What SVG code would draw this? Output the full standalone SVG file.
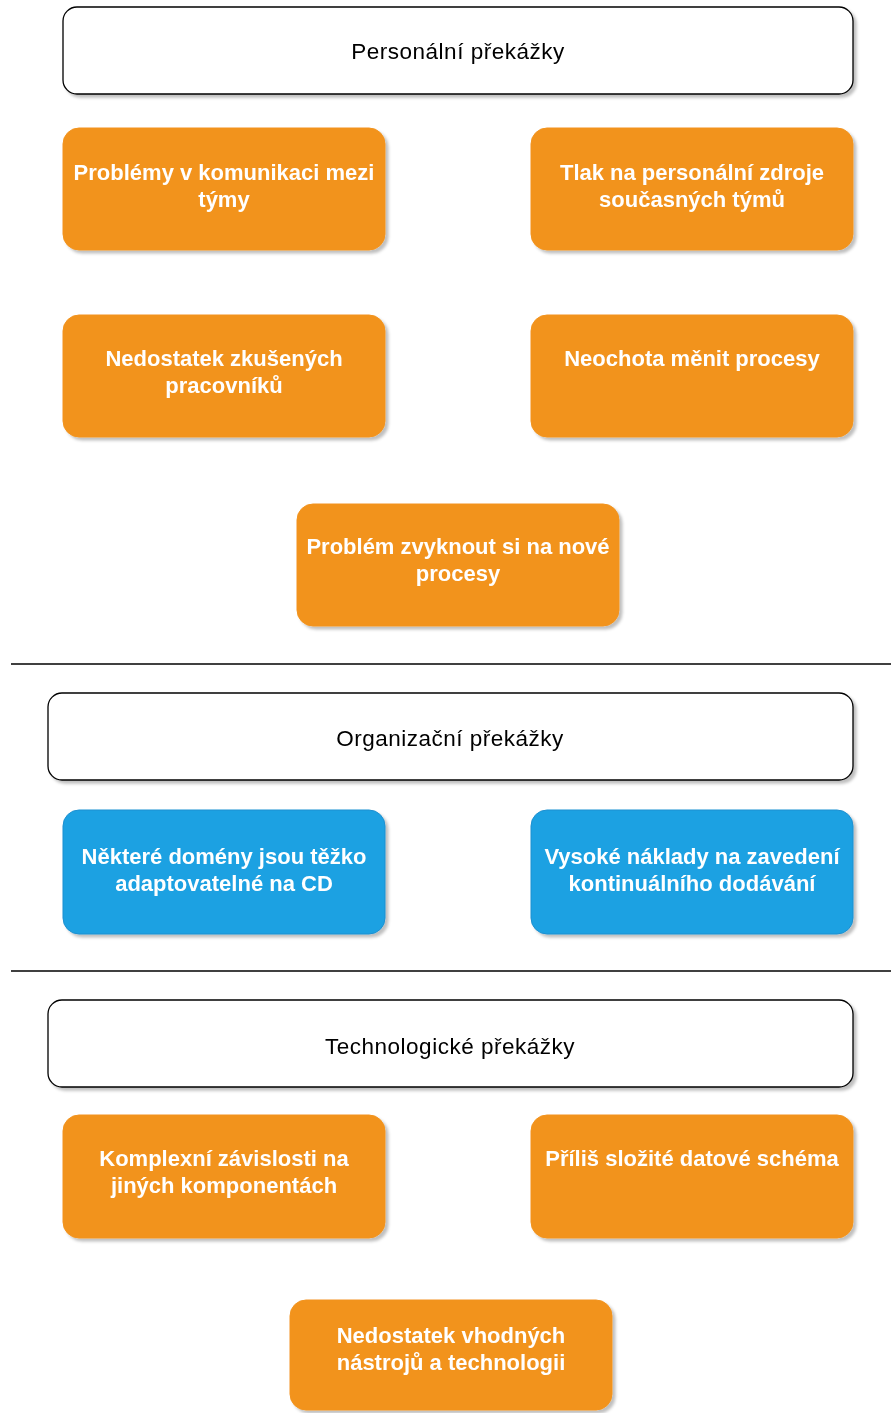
<svg xmlns="http://www.w3.org/2000/svg" width="891" height="1413" viewBox="0 0 891 1413">
<defs>
<filter id="sh" x="-5%" y="-10%" width="115%" height="130%">
<feGaussianBlur in="SourceAlpha" stdDeviation="1.5"/>
<feOffset dx="3" dy="3" result="b"/>
<feFlood flood-color="#000" flood-opacity="0.25"/>
<feComposite in2="b" operator="in"/>
<feMerge><feMergeNode/><feMergeNode in="SourceGraphic"/></feMerge>
</filter>
</defs>
<style>
.hdr{fill:#ffffff;stroke:#000000;stroke-width:1.3}
.org{fill:#F2931E;stroke:#F2931E}
.blu{fill:#1BA1E2;stroke:#1B8FD0}
.ht{font-family:"Liberation Sans",Arial,sans-serif;font-size:22.5px;letter-spacing:0.5px;fill:#000;text-anchor:middle}
.bt{font-family:"Liberation Sans",Arial,sans-serif;font-size:22px;font-weight:bold;fill:#fff;text-anchor:middle}
.sep{stroke:#000;stroke-width:1.3}
</style>
<rect width="891" height="1413" fill="#ffffff"/>
<g id="separators">
<line class="sep" x1="11" y1="664" x2="891" y2="664"/>
<line class="sep" x1="11" y1="971" x2="891" y2="971"/>
</g>
<g id="h1" filter="url(#sh)"><rect class="hdr" x="63" y="7" width="790" height="87" rx="14"/><text class="ht" x="458" y="59">Personální překážky</text></g>
<g id="n1" filter="url(#sh)"><rect class="org" x="63" y="128" width="322" height="122" rx="16"/><text class="bt" x="224" y="180">Problémy v komunikaci mezi</text><text class="bt" x="224" y="207">týmy</text></g>
<g id="n2" filter="url(#sh)"><rect class="org" x="531" y="128" width="322" height="122" rx="16"/><text class="bt" x="692" y="180">Tlak na personální zdroje</text><text class="bt" x="692" y="207">současných týmů</text></g>
<g id="n3" filter="url(#sh)"><rect class="org" x="63" y="315" width="322" height="122" rx="16"/><text class="bt" x="224" y="366">Nedostatek zkušených</text><text class="bt" x="224" y="393">pracovníků</text></g>
<g id="n4" filter="url(#sh)"><rect class="org" x="531" y="315" width="322" height="122" rx="16"/><text class="bt" x="692" y="366">Neochota měnit procesy</text></g>
<g id="n5" filter="url(#sh)"><rect class="org" x="297" y="504" width="322" height="122" rx="16"/><text class="bt" x="458" y="554">Problém zvyknout si na nové</text><text class="bt" x="458" y="581">procesy</text></g>
<g id="h2" filter="url(#sh)"><rect class="hdr" x="48" y="693" width="805" height="87" rx="14"/><text class="ht" x="450" y="746">Organizační překážky</text></g>
<g id="n6" filter="url(#sh)"><rect class="blu" x="63" y="810" width="322" height="124" rx="16"/><text class="bt" x="224" y="864">Některé domény jsou těžko</text><text class="bt" x="224" y="891">adaptovatelné na CD</text></g>
<g id="n7" filter="url(#sh)"><rect class="blu" x="531" y="810" width="322" height="124" rx="16"/><text class="bt" x="692" y="864">Vysoké náklady na zavedení</text><text class="bt" x="692" y="891">kontinuálního dodávání</text></g>
<g id="h3" filter="url(#sh)"><rect class="hdr" x="48" y="1000" width="805" height="87" rx="14"/><text class="ht" x="450" y="1054">Technologické překážky</text></g>
<g id="n8" filter="url(#sh)"><rect class="org" x="63" y="1115" width="322" height="123" rx="16"/><text class="bt" x="224" y="1166">Komplexní závislosti na</text><text class="bt" x="224" y="1193">jiných komponentách</text></g>
<g id="n9" filter="url(#sh)"><rect class="org" x="531" y="1115" width="322" height="123" rx="16"/><text class="bt" x="692" y="1166">Příliš složité datové schéma</text></g>
<g id="n10" filter="url(#sh)"><rect class="org" x="290" y="1300" width="322" height="110" rx="16"/><text class="bt" x="451" y="1343">Nedostatek vhodných</text><text class="bt" x="451" y="1370">nástrojů a technologii</text></g>
</svg>
